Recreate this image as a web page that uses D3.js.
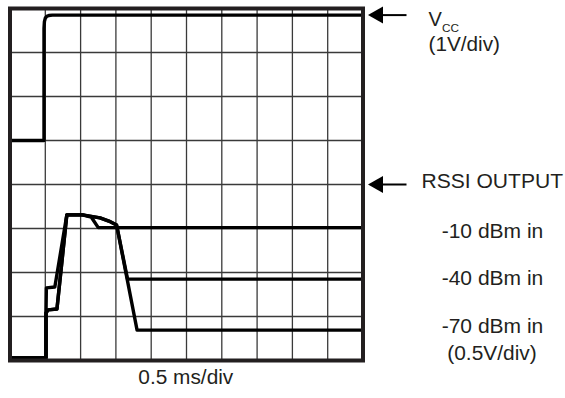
<!DOCTYPE html>
<html>
<head>
<meta charset="utf-8">
<script src="https://cdn.jsdelivr.net/npm/d3@7"></script>
<style>
  body { margin: 0; background: #fff; }
  svg { display: block; }
  text { font-family: "Liberation Sans", Arial, sans-serif; fill: #231f20; }
</style>
</head>
<body>
<div id="vis"></div>
<script>
// scope screen: 10 x 8 divisions, values in divisions
const xDivs = d3.range(0, 11);
const yDivs = d3.range(0, 9);

// Vcc trace (1V/div)
const vccX = [0, 0.963, 0.963, 0.975, 1.0, 1.04, 1.1, 1.2, 10];
const vccY = [5, 5, 7.55, 7.7, 7.78, 7.82, 7.84, 7.85, 7.85];

// RSSI traces (0.5V/div)
const rssi10X = [0, 1.02, 1.02, 1.03, 1.27, 1.61, 2.05, 2.3, 2.5, 10];
const rssi10Y = [0.06, 0.06, 1.08, 1.65, 1.67, 3.31, 3.31, 3.26, 3.02, 3.02];
const rssi40X = [0, 1.02, 1.02, 1.08, 1.33, 1.61, 2.05, 2.55, 2.8, 3.02, 3.33, 10];
const rssi40Y = [0.06, 0.06, 1.08, 1.15, 1.17, 3.31, 3.31, 3.24, 3.17, 3.08, 1.85, 1.85];
const rssi70X = [0, 1.02, 1.02, 1.08, 1.33, 1.61, 2.05, 2.55, 2.8, 3.02, 3.6, 10];
const rssi70Y = [0.06, 0.06, 1.08, 1.15, 1.17, 3.31, 3.31, 3.24, 3.17, 3.08, 0.69, 0.69];

const vccArrowLevel = 7.85;
const rssiArrowLevel = 4;

const rightLabels = ["-10 dBm in", "-40 dBm in", "-70 dBm in"];

const width = 565, height = 398;
const svg = d3.select("#vis").append("svg")
    .attr("width", width)
    .attr("height", height);

const x = d3.scaleLinear().domain([0, 10]).range([10, 363]);
const y = d3.scaleLinear().domain([0, 8]).range([360.5, 8.5]);

// grid
svg.append("g").selectAll("line.v")
    .data(xDivs.slice(1, -1))
    .enter().append("line")
    .attr("x1", d => x(d)).attr("x2", d => x(d))
    .attr("y1", y(0)).attr("y2", y(8))
    .attr("stroke", "#3a3a3a")
    .attr("stroke-width", 1.3);
svg.append("g").selectAll("line.h")
    .data(yDivs.slice(1, -1))
    .enter().append("line")
    .attr("x1", x(0)).attr("x2", x(10))
    .attr("y1", d => y(d)).attr("y2", d => y(d))
    .attr("stroke", "#3a3a3a")
    .attr("stroke-width", 1.3);

// traces
const line = d3.line()
    .x(d => x(d[0]))
    .y(d => y(d[1]));

const traces = [
  [vccX, vccY],
  [rssi10X, rssi10Y],
  [rssi40X, rssi40Y],
  [rssi70X, rssi70Y]
];
svg.append("g").selectAll("path")
    .data(traces)
    .enter().append("path")
    .attr("d", t => line(t[0].map((v, i) => [v, t[1][i]])))
    .attr("fill", "none")
    .attr("stroke", "#000")
    .attr("stroke-width", 3.4)
    .attr("stroke-linejoin", "round");

// frame
svg.append("rect")
    .attr("x", x(0)).attr("y", y(8))
    .attr("width", x(10) - x(0))
    .attr("height", y(0) - y(8))
    .attr("fill", "none")
    .attr("stroke", "#231f20")
    .attr("stroke-width", 4);

// arrows
function arrow(level) {
  const ay = y(level);
  svg.append("line")
      .attr("x1", 380).attr("x2", 406.5)
      .attr("y1", ay).attr("y2", ay)
      .attr("stroke", "#000")
      .attr("stroke-width", 2);
  svg.append("path")
      .attr("d", "M368," + ay + "L383," + (ay - 8.5) + "L383," + (ay + 8.5) + "Z")
      .attr("fill", "#000");
}
arrow(vccArrowLevel);
arrow(rssiArrowLevel);

// Vcc label
svg.append("text")
    .attr("x", 428.5).attr("y", 26)
    .attr("font-size", 20)
    .text("V");
svg.append("text")
    .attr("x", 442).attr("y", 32)
    .attr("font-size", 11)
    .attr("textLength", 17)
    .attr("lengthAdjust", "spacingAndGlyphs")
    .text("CC");
svg.append("text")
    .attr("x", 428.5).attr("y", 51)
    .attr("font-size", 20)
    .attr("textLength", 71.5)
    .attr("lengthAdjust", "spacingAndGlyphs")
    .text("(1V/div)");

svg.append("text")
    .attr("x", 421.5).attr("y", 188.3)
    .attr("font-size", 20)
    .attr("textLength", 141.5)
    .attr("lengthAdjust", "spacingAndGlyphs")
    .text("RSSI OUTPUT");

svg.append("g").selectAll("text")
    .data(rightLabels)
    .enter().append("text")
    .attr("x", 441.7)
    .attr("y", (d, i) => [238.3, 285, 333.3][i])
    .attr("font-size", 20)
    .attr("textLength", 101.6)
    .attr("lengthAdjust", "spacingAndGlyphs")
    .text(d => d);

svg.append("text")
    .attr("x", 447.3).attr("y", 359.5)
    .attr("font-size", 20)
    .attr("textLength", 89.4)
    .attr("lengthAdjust", "spacingAndGlyphs")
    .text("(0.5V/div)");

svg.append("text")
    .attr("x", 138.3).attr("y", 384.3)
    .attr("font-size", 20)
    .attr("textLength", 95)
    .attr("lengthAdjust", "spacingAndGlyphs")
    .text("0.5 ms/div");
</script>
</body>
</html>
